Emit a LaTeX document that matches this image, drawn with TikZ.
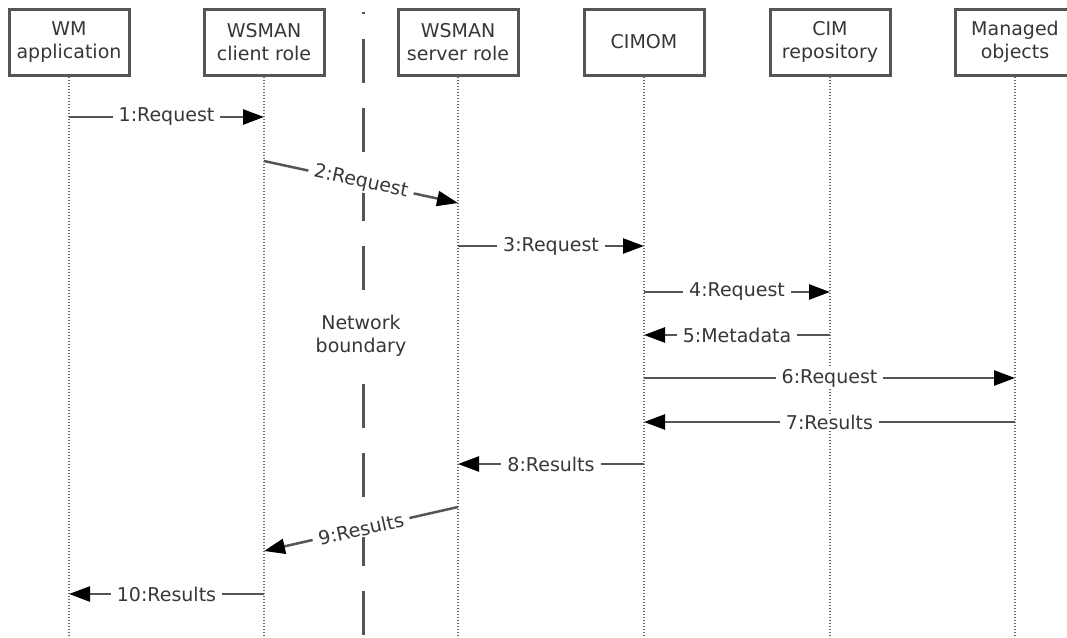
\documentclass[tikz,border=0pt]{standalone}
\usepackage{fontspec}
\setmainfont{DejaVu Sans}
\usetikzlibrary{arrows.meta}
\definecolor{linegray}{RGB}{85,85,85}
\definecolor{dotgray}{RGB}{105,105,105}
\definecolor{textgray}{RGB}{55,55,55}

\begin{document}
\begin{tikzpicture}[x=1pt,y=-1pt,
  every node/.style={font=\fontsize{19}{23}\selectfont,text=textgray},
  lifebox/.style={draw=linegray,line width=3pt,minimum width=120pt,minimum height=66pt,inner sep=0pt,align=center,fill=white},
  lifeline/.style={draw=dotgray,line width=2.5pt,dash pattern=on 1.5pt off 1.5pt},
  msg/.style={draw=linegray,line width=2.5pt,-{Triangle[length=21pt,width=15pt,color=black]}},
  msglabel/.style={fill=white,inner xsep=6pt,inner ysep=1pt}
]
\useasboundingbox (0,0) rectangle (1067,637);

% the participants
\foreach \n/\x/\t in {wm/69/{WM\\application},client/264/{WSMAN\\client role},server/458/{WSMAN\\server role},cimom/644/CIMOM,repo/830/{CIM\\repository},mo/1015/{Managed\\objects}}
  \node[lifebox] (\n) at (\x,42) {\t};

% the lifelines
\foreach \n in {wm,client,server,cimom,repo,mo}
  \draw[lifeline] (\n.south) -- (\n.south |- 0,637);

% the network boundary
\draw[linegray,line width=3pt,dash pattern=on 44pt off 25pt,dash phase=42pt] (363,12) -- (363,637);
\node[fill=white,align=center,inner sep=6pt] (nb) at (361,336) {Network\\boundary};

% the messages
\foreach \a/\b/\y/\t in {wm/client/117/1:Request,server/cimom/246/3:Request,cimom/repo/292/4:Request,repo/cimom/335/5:Metadata,cimom/mo/378/6:Request,mo/cimom/422/7:Results,cimom/server/464/8:Results,client/wm/594/10:Results}
  \draw[msg] (\a |- 0,\y) -- node[msglabel] {\t} (\b |- 0,\y);

% the sloped ones
\draw[msg] (client |- 0,161) -- node[msglabel,sloped] {2:Request} (server |- 0,203);
\draw[msg] (server |- 0,507) -- node[msglabel,sloped] {9:Results} (client |- 0,551);
\end{tikzpicture}
\end{document}
